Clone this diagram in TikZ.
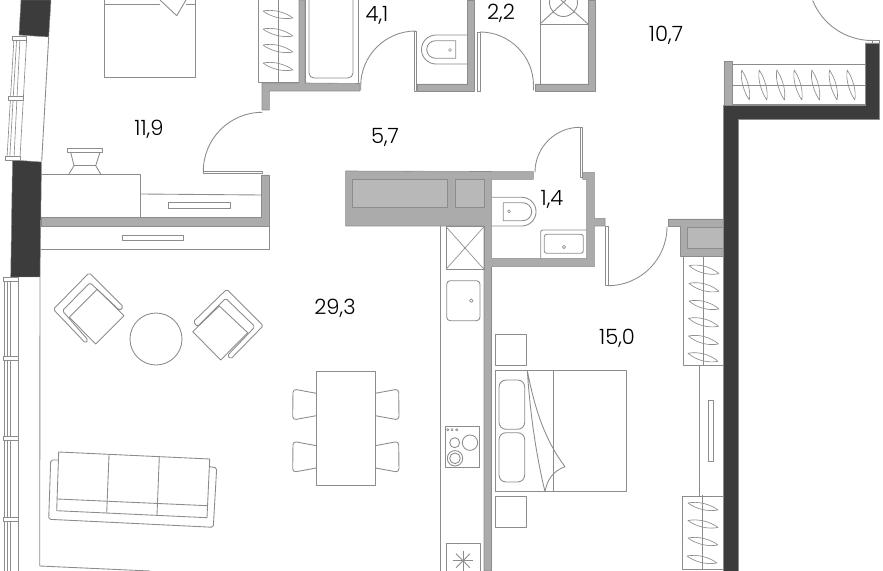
\documentclass[tikz,border=0pt]{standalone}
\usepackage{fontspec}
\setmainfont{Poppins}[UprightFont=* Light]
\definecolor{walldark}{HTML}{3C3C3C}
\definecolor{wallgray}{HTML}{ABABAB}
\definecolor{shaftgray}{HTML}{B8B8B8}
\definecolor{planline}{HTML}{8C8C8C}
\begin{document}
\begin{tikzpicture}[x=0.03cm,y=-0.03cm,line join=round,
  plan/.style={draw=planline,line width=0.75pt},
  thin plan/.style={draw=planline,line width=0.55pt},
  dark wall/.style={fill=walldark,draw=planline,line width=0.4pt},
  gray wall/.style={fill=wallgray,draw=planline,line width=0.5pt},
  area/.style={font=\fontsize{18}{20}\selectfont,inner sep=0pt,text=black}]
\useasboundingbox (0,0) rectangle (883,571);
%outer walls
\path[dark wall] (21,0) -- (51,0) -- (48.7,37) -- (19,35) -- cycle;
\path[dark wall] (12.5,160) -- (41.5,162) -- (40,277) -- (10.7,277) -- cycle;
\path[dark wall] (865,43) -- (879,43) -- (879,119) -- (738.5,119) -- (738.5,571) -- (723.5,571) -- (723.5,105) -- (865,105) -- cycle;
%upper window
\draw[thin plan] (14,38) -- (7,158);
\draw[thin plan] (16.7,38) -- (9.7,158);
\draw[thin plan] (20,38) -- (14,158);
\draw[thin plan] (26.7,38) -- (20,158);
\draw[plan] (48.7,37) -- (41.7,161);
\draw[thin plan,fill=white] (12.3,36) rectangle (26.7,40);
\draw[thin plan,fill=white] (8.3,96) rectangle (23.3,100);
\draw[thin plan,fill=white] (5,156) rectangle (20,160);
%lower window
\draw[thin plan] (4.5,279) -- (4.5,571);
\draw[thin plan] (7,279) -- (7,571);
\draw[thin plan] (10,279) -- (10,571);
\draw[thin plan] (18,277) -- (18,571);
\draw[plan] (40,277) -- (39.7,566) -- (150,571);
\draw[thin plan,fill=white] (3.5,277.5) rectangle (18.5,281.5);
\draw[thin plan,fill=white] (3.5,356) rectangle (18.5,360);
\draw[thin plan,fill=white] (3.5,436.5) rectangle (18.5,440.5);
\draw[thin plan,fill=white] (3,517) rectangle (18,521);
%inner walls
\path[gray wall] (262,83) -- (299,83) -- (299,0) -- (305,0) -- (305,83) -- (360,83.5) -- (360,91) -- (269.3,91) -- (269.3,110) -- (262,110) -- cycle;
\path[gray wall] (417,84) -- (467,84) -- (467,0) -- (474,0) -- (474,91) -- (417,91) -- cycle;
\path[gray wall] (535,84) -- (588,84) -- (588,0) -- (595,0) -- (595,91.5) -- (535,91.5) -- cycle;
\path[gray wall] (41,217.3) -- (261.7,217.3) -- (261.7,175) -- (269.3,175) -- (269.3,226) -- (41,226) -- cycle;
\path[gray wall] (345.7,171) -- (533.3,171.7) -- (533.3,179.3) -- (491.7,179.3) -- (491.7,258.3) -- (586.7,258.3) -- (586.7,179.3) -- (582.7,179.3) -- (582.7,172.3) -- (594.3,172.3) -- (594.3,218.3) -- (605,218.3) -- (605,226) -- (594.3,226) -- (594.3,266.7) -- (491.5,266.7) -- (491.5,571) -- (484,571) -- (484,226) -- (345.7,226) -- cycle;
\path[gray wall,fill=shaftgray] (352.7,179.3) rectangle (447.7,207.3);
\path[gray wall,fill=shaftgray] (455,179.3) rectangle (484,207.3);
\path[gray wall] (668,219) -- (723.5,219) -- (723.5,256) -- (680,256) -- (680,226.7) -- (668,226.7) -- cycle;
\path[gray wall,fill=shaftgray] (687,227) rectangle (723.5,248);
\path[gray wall] (724,61.7) rectangle (732,105);
%doors
\draw[plan] (262.3,112.3) arc (-90:-180:59);
\draw[thin plan] (203.3,171.5) rectangle (262,173.3);
\draw[plan] (415.7,31) arc (-90:-180:55) -- +(0,4);
\draw[thin plan] (414.5,31) rectangle (416.5,91);
\draw[plan] (480,32) arc (-90:0:53.5) -- +(0,5);
\draw[thin plan] (477,32) rectangle (480,91);
\draw[plan] (580,127.3) arc (-90:-180:45);
\draw[thin plan] (580,127.3) rectangle (582.7,177);
\draw[plan] (667,226.7) arc (0:90:59);
\draw[thin plan] (605,226) rectangle (608.5,285.7);
\draw[plan] (872,40.5) arc (90:158:64);
\draw[thin plan] (872,40) rectangle (879,43);
%bed top
\draw[plan] (104,0) -- (104,77) -- (195,77) -- (195,0);
\draw[plan] (104,4.3) -- (160,4.3);
\draw[plan] (186,4.3) -- (195,4.3);
\draw[plan] (160,0) -- (176.7,15.7) -- (186,0);
%wardrobe top
\draw[plan] (258.7,0) -- (258.7,82.5) -- (299,82.5);
\draw[plan] (278,0) -- (278,82.5);
\draw[thin plan] (263,11) .. controls (273,9) and (285,12) .. (293,18) .. controls (283,20) and (271,17) .. (263,11) -- cycle;
\draw[thin plan] (263,29) .. controls (273,27) and (285,30) .. (293,36) .. controls (283,38) and (271,35) .. (263,29) -- cycle;
\draw[thin plan] (263,45) .. controls (273,43) and (285,46) .. (293,52) .. controls (283,54) and (271,51) .. (263,45) -- cycle;
\draw[thin plan] (263,63) .. controls (273,61) and (285,64) .. (293,70) .. controls (283,72) and (271,69) .. (263,63) -- cycle;
%bath
\draw[plan] (305,83) -- (305,0);
\draw[plan] (358,83) -- (358,0);
\draw[plan] (309,0) -- (309,73) arc (180:90:5) -- (348,78) arc (90:0:5) -- (353,0);
%toilet top
\draw[plan] (467,35) -- (436,35) arc (-90:-270:14.5) -- (467,64);
\draw[plan] (455.7,40.7) -- (435.5,40.7) arc (-90:-270:8.8) -- (455.7,58.3) -- cycle;
\draw[thin plan] (450,50) circle (1.5);
%laundry unit
\draw[plan] (540,84) -- (540,0);
\draw[plan] (540,24) -- (588,24);
\draw[plan] (563.5,2.5) circle (14);
\draw[plan] (540,24) -- (566,0);
\draw[plan] (588,24) -- (561,0);
%storage balcony
\draw[plan] (732,64.3) -- (865,64.3);
\draw[plan] (732,85) -- (865,85);
\draw[plan] (732,104.7) -- (865,104.7);
\draw[thin plan] (741.7,70) .. controls (740,80) and (744,92) .. (749.3,100) .. controls (751,90) and (747,78) .. (741.7,70) -- cycle;
\draw[thin plan] (759.2,70) .. controls (757.5,80) and (761.5,92) .. (766.8,100) .. controls (768.5,90) and (764.5,78) .. (759.2,70) -- cycle;
\draw[thin plan] (776.8,70) .. controls (775.1,80) and (779.1,92) .. (784.4,100) .. controls (786.1,90) and (782.1,78) .. (776.8,70) -- cycle;
\draw[thin plan] (794.2,70) .. controls (792.5,80) and (796.5,92) .. (801.8,100) .. controls (803.5,90) and (799.5,78) .. (794.2,70) -- cycle;
\draw[thin plan] (811.8,70) .. controls (810.1,80) and (814.1,92) .. (819.4,100) .. controls (821.1,90) and (817.1,78) .. (811.8,70) -- cycle;
\draw[thin plan] (829.5,70) .. controls (827.8,80) and (831.8,92) .. (837.1,100) .. controls (838.8,90) and (834.8,78) .. (829.5,70) -- cycle;
\draw[thin plan] (847.2,70) .. controls (845.5,80) and (849.5,92) .. (854.8,100) .. controls (856.5,90) and (852.5,78) .. (847.2,70) -- cycle;
%dresser
\draw[plan] (41.5,174) -- (140.3,174) -- (140.3,217);
\draw[plan] (140.3,194) -- (261.5,195);
\draw[thin plan] (168.3,202.7) rectangle (230,208.3);
\draw[plan] (40.5,249) -- (269.3,249) -- (269.3,226);
\draw[thin plan] (122.3,235) rectangle (183.7,240.3);
%vase
\draw[plan] (67.3,148.7) rectangle (102.7,152.3);
\draw[plan] (70.7,152.3) -- (74,165.7) -- (69,174);
\draw[plan] (100,152.3) -- (95.7,165.7) -- (100.7,174);
\draw[plan] (74,165.7) -- (95.7,165.7);
%armchairs
\draw[plan,rounded corners=1.5pt] (89.3,272.7) -- (123.3,306.7) -- (120,310.7) -- (90,282.7) -- (62.3,310.7) -- (88,340) -- (85.7,343.3) -- (53.3,309.3) -- cycle;
\draw[plan] (97.3,289.3) -- (124,315.7) -- (95.7,344) -- (69.3,317.3) -- cycle;
\draw[plan,rounded corners=1.5pt] (226.7,289.3) -- (263.3,325.7) -- (230.7,359) -- (227.3,355.7) -- (255,326.7) -- (225.7,298.3) -- (197.3,326.7) -- (193.3,321.7) -- cycle;
\draw[plan] (219.3,306) -- (247.7,332.7) -- (220.7,360) -- (192.7,331.7) -- cycle;
\draw[plan] (156,339) circle (26);
%sofa
\draw[plan,rounded corners=1.5pt] (58.7,460) -- (50.7,460) -- (48.7,519.3) -- (213.3,527.3) -- (216.7,467.7) -- (209.3,466.7);
\draw[plan] (58.7,452) -- (209.7,459) -- (207,517.7) -- (56.7,510.7) -- cycle;
\draw[plan] (109,455) -- (106.7,513.3);
\draw[plan] (159.3,456.7) -- (157,515);
\draw[plan] (57.3,499) -- (207.3,505.7);
%dining
\draw[plan] (316.3,371) rectangle (375.3,485.3);
\draw[plan,rounded corners=3pt] (316.3,393.3) -- (293,389) -- (292.7,420) -- (316.3,415.7);
\draw[plan,rounded corners=3pt] (316.3,445.7) -- (293,441.3) -- (292.7,472.3) -- (316.3,468);
\draw[plan,rounded corners=3pt] (375.3,393.3) -- (398.7,389) -- (399,420) -- (375.3,415.7);
\draw[plan,rounded corners=3pt] (375.3,445.7) -- (398.7,441.3) -- (399,472.3) -- (375.3,468);
%kitchen
\draw[plan] (440.7,226) -- (440.7,571);
\draw[plan] (446,226.7) rectangle (484,269.3);
\draw[thin plan] (446,226.7) -- (484,269.3);
\draw[thin plan] (484,226.7) -- (446,269.3);
\draw[plan,rounded corners=3pt] (446.7,280.7) rectangle (480,320.7);
\draw[thin plan] (471.3,300.7) circle (1.8);
\draw[plan] (445,426.7) rectangle (479.7,467.3);
\draw[thin plan] (447.7,429.7) circle (1.2);
\draw[thin plan] (452,429.7) circle (1.2);
\draw[thin plan] (456.7,429.7) circle (1.2);
\draw[plan] (454.7,442.7) circle (5);
\draw[plan] (470,442.7) circle (7.7);
\draw[plan] (455,458.3) circle (7.7);
\draw[plan] (455,458.3) circle (5.3);
\draw[plan] (446,571) -- (446,543.3) -- (480.3,543.3) -- (480.3,571);
\draw[plan] (453,560.7) -- (473,560.7);
\draw[plan] (463,550.7) -- (463,570.7);
\draw[plan] (456,553.7) -- (470,567.7);
\draw[plan] (470,553.7) -- (456,567.7);
%toilet and sink small bathroom
\draw[plan] (491.7,197.3) -- (521.7,197.3) arc (-90:90:14.35) -- (491.7,226);
\draw[plan] (503.3,202.7) -- (522.7,202.7) arc (-90:90:9) -- (503.3,220.7) -- cycle;
\draw[thin plan] (509,211.3) circle (1.5);
\draw[plan] (540.7,258.3) -- (540.7,232) arc (180:270:2) -- (586.7,230);
\draw[plan,rounded corners=2pt] (544.3,234.3) rectangle (583.3,253.3);
\draw[thin plan] (564,247) circle (1.7);
%bed bottom
\draw[plan] (495.7,370.7) rectangle (626.3,491.3);
\draw[plan] (553.3,370.7) -- (553.3,491.3);
\draw[plan,rounded corners=6pt] (499,380) rectangle (524.7,429.3);
\draw[plan,rounded corners=6pt] (499,432.7) rectangle (524.7,482);
\draw[plan] (527.3,370.7) .. controls (535,410) and (545,440) .. (565,466.7) .. controls (553,471) and (547,480) .. (545,491.7) .. controls (535,450) and (530,410) .. (527.3,370.7) -- cycle;
\draw[plan] (495.7,334) rectangle (526.7,365.7);
\draw[plan] (495.7,496) rectangle (526.7,527);
%wardrobe right
\draw[plan] (683.3,256) -- (683.3,365.7) -- (723.5,365.7);
\draw[plan] (703.3,256) -- (703.3,365.7);
\draw[thin plan] (689,265.7) .. controls (699,263.7) and (711,266.7) .. (719,273.7) .. controls (709,275.7) and (697,272.7) .. (689,265.7) -- cycle;
\draw[thin plan] (689,283.3) .. controls (699,281.3) and (711,284.3) .. (719,291.3) .. controls (709,293.3) and (697,290.3) .. (689,283.3) -- cycle;
\draw[thin plan] (689,301) .. controls (699,299) and (711,302) .. (719,309) .. controls (709,311) and (697,308) .. (689,301) -- cycle;
\draw[thin plan] (688.5,318.3) .. controls (698.5,316.3) and (710.5,319.3) .. (718.5,326.3) .. controls (708.5,328.3) and (696.5,325.3) .. (688.5,318.3) -- cycle;
\draw[thin plan] (688.5,336) .. controls (698.5,334) and (710.5,337) .. (718.5,344) .. controls (708.5,346) and (696.5,343) .. (688.5,336) -- cycle;
\draw[thin plan] (688,353.3) .. controls (698,351.3) and (710,354.3) .. (718,361.3) .. controls (708,363.3) and (696,360.3) .. (688,353.3) -- cycle;
\draw[plan] (699.3,365.7) -- (699.3,496);
\draw[thin plan] (708,400) rectangle (713.3,461.7);
\draw[plan] (723.5,496) -- (682.7,496) -- (682.7,569.7) -- (723.5,569.7);
\draw[plan] (702.7,495) -- (702.7,570);
\draw[thin plan] (688,503) .. controls (698,501) and (710,504) .. (718,510) .. controls (708,512) and (696,509) .. (688,503) -- cycle;
\draw[thin plan] (688,520.5) .. controls (698,518.5) and (710,521.5) .. (718,527.5) .. controls (708,529.5) and (696,526.5) .. (688,520.5) -- cycle;
\draw[thin plan] (688,538) .. controls (698,536) and (710,539) .. (718,545) .. controls (708,547) and (696,544) .. (688,538) -- cycle;
\draw[thin plan] (687,556) .. controls (697,554) and (709,557) .. (717,563) .. controls (707,565) and (695,562) .. (687,556) -- cycle;
%areas
\node[area] (bedroomtop) at (149,129) {11,9};
\node[area] (bath) at (377,15) {4,1};
\node[area] (laundry) at (501,13) {2,2};
\node[area] (balcony) at (666,35) {10,7};
\node[area] (hall) at (385,137) {5,7};
\node[area] (wc) at (552,199) {1,4};
\node[area] (living) at (335,308) {29,3};
\node[area] (bedroomlow) at (617,338) {15,0};
\end{tikzpicture}
\end{document}
